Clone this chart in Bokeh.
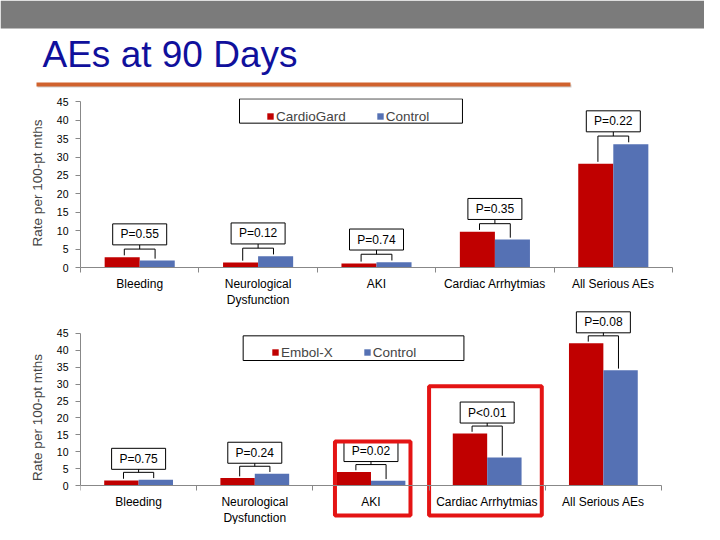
from bokeh.plotting import figure
from bokeh.models import FixedTicker, BoxAnnotation, Label, ColumnDataSource, Range1d
from bokeh.layouts import column
from bokeh.core.properties import value
from bokeh.embed import file_html
from bokeh.resources import INLINE

# ---------------- data ----------------
categories = ["Bleeding", "Neurological\nDysfunction", "AKI", "Cardiac Arrhytmias", "All Serious AEs"]
y_ticks = [0, 5, 10, 15, 20, 25, 30, 35, 40, 45]

cardiogard = [2.8, 1.35, 1.1, 9.7, 28.2]
control_top = [1.9, 3.05, 1.4, 7.6, 33.5]
p_top = ["P=0.55", "P=0.12", "P=0.74", "P=0.35", "P=0.22"]

embolx = [1.5, 2.2, 4.0, 15.4, 42.1]
control_bottom = [1.7, 3.5, 1.4, 8.3, 34.1]
p_bottom = ["P=0.75", "P=0.24", "P=0.02", "P<0.01", "P=0.08"]

RED = "#c00000"
BLUE = "#5571b4"
AXIS = "#888888"
FONT = "Liberation Sans"
W = 704


def make_chart(dev_name, dev_vals, ctrl_vals, p_labels, height, x_end, y_range,
               b_top, b_bottom, legend_xy, legend_box, fixed_axis=False):
    p = figure(width=W, height=height, x_range=Range1d(0, x_end), y_range=Range1d(*y_range),
               toolbar_location=None, output_backend="svg",
               min_border_left=80, min_border_right=32,
               min_border_top=b_top, min_border_bottom=b_bottom)
    p.outline_line_color = None
    p.xgrid.visible = False
    p.ygrid.visible = False

    n = len(categories)
    centers = [i + 0.5 for i in range(n)]
    src = ColumnDataSource(dict(
        xr=[c - 0.148 for c in centers],
        xb=[c + 0.148 for c in centers],
        dev=dev_vals, ctrl=ctrl_vals))
    p.vbar(x="xr", top="dev", width=0.296, source=src, fill_color=RED, line_color=None,
           legend_label=dev_name)
    p.vbar(x="xb", top="ctrl", width=0.296, source=src, fill_color=BLUE, line_color=None,
           legend_label="Control")

    # brackets and p-value boxes derived from the values
    x0s, y0s, x1s, y1s, lx, ly = [], [], [], [], [], []
    for c, r, b in zip(centers, dev_vals, ctrl_vals):
        by = max(r, b) + 2.2
        cy = by + 4.0
        x0s += [c - 0.13, c - 0.13, c + 0.13, c]
        y0s += [by, by, by, by]
        x1s += [c + 0.13, c - 0.13, c + 0.13, c]
        y1s += [by, r + 0.5, b + 0.5, cy - 2.8]
        lx.append(c)
        ly.append(cy)
    p.segment(x0=x0s, y0=y0s, x1=x1s, y1=y1s, line_color="black", line_width=1)
    p.rect(x=lx, y=ly, width=54, height=21, width_units="screen", height_units="screen",
           fill_color="white", line_color="black", line_width=1)
    p.text(x=lx, y=ly, text=p_labels, text_align="center", text_baseline="middle",
           text_font=value(FONT), text_font_size="12px", text_color="black")

    # legend
    lb = BoxAnnotation(left=legend_box[0], right=legend_box[1], bottom=legend_box[2],
                       top=legend_box[3], fill_color=None, line_color="black",
                       line_width=1, line_alpha=1)
    p.add_layout(lb)
    lg = p.legend[0]
    lg.location = legend_xy
    lg.orientation = "horizontal"
    lg.border_line_color = None
    lg.background_fill_alpha = 0
    lg.padding = 4
    lg.margin = 0
    lg.spacing = 30
    lg.glyph_width = 8
    lg.glyph_height = 8
    lg.label_standoff = 2
    lg.label_height = 20
    lg.label_text_font = FONT
    lg.label_text_font_size = "13.5px"

    # x axis: labels at centres, ticks at boundaries
    xa = p.xaxis[0]
    xa.ticker = FixedTicker(ticks=centers, minor_ticks=list(range(n + 1)))
    xa.major_label_overrides = {c: name for c, name in zip(centers, categories)}
    xa.bounds = (0, n)
    xa.major_tick_out = 0
    xa.major_tick_in = 0
    xa.minor_tick_out = 5
    xa.minor_tick_in = 0
    xa.minor_tick_line_color = AXIS
    xa.axis_line_color = AXIS
    xa.major_label_standoff = 4
    xa.major_label_text_font = FONT
    xa.major_label_text_font_size = "12px"
    xa.major_label_text_color = "black"
    if fixed_axis:
        xa.fixed_location = 0

    ya = p.yaxis[0]
    ya.ticker = FixedTicker(ticks=y_ticks)
    ya.bounds = (0, 45)
    ya.axis_line_color = AXIS
    ya.major_tick_line_color = AXIS
    ya.major_tick_out = 5
    ya.major_tick_in = 0
    ya.minor_tick_line_color = None
    ya.major_label_standoff = 7
    ya.major_label_text_font = FONT
    ya.major_label_text_font_size = "10.5px"
    ya.major_label_text_color = "black"
    ya.axis_label = "Rate per 100-pt mths"
    ya.axis_label_text_font = FONT
    ya.axis_label_text_font_style = "normal"
    ya.axis_label_text_font_size = "13.5px"
    ya.axis_label_standoff = 9
    return p


# ---------------- header ----------------
h = figure(width=W, height=90, x_range=Range1d(0, W), y_range=Range1d(0, 90),
           toolbar_location=None, output_backend="svg", min_border=0,
           min_border_left=0, min_border_right=0, min_border_top=0, min_border_bottom=0)
h.axis.visible = False
h.grid.visible = False
h.outline_line_color = None
h.quad(left=0, right=W, bottom=62, top=90, fill_color="#7b7b7b", line_color=None)
h.segment(x0=37, y0=4.5, x1=571, y1=4.5, line_color="#cfcfcf", line_width=3)
h.segment(x0=36, y0=6, x1=570, y1=6, line_color="#d0622d", line_width=4)
h.add_layout(Label(x=42, y=36, text="AEs at 90 Days", text_font=FONT,
                   text_font_size="37px", text_color="#10109c", text_baseline="alphabetic"))

# ---------------- charts ----------------
top = make_chart("CardioGard", cardiogard, control_top, p_top, 220, 5.0, (0, 45.9),
                 8, 37, (186, 141), (1.343, 3.226, 39.2, 45.8))
bottom = make_chart("Embol-X", embolx, control_bottom, p_bottom, 214, 5.095, (-11.54, 51.8),
                    0, 0, (191, 162), (1.40, 3.30, 37.0, 44.3), fixed_axis=True)

# highlight boxes around AKI and Cardiac Arrhytmias
bottom.quad(left=[2.19, 3.0], right=[2.84, 3.97], bottom=[-8.9, -8.9], top=[13.0, 29.4],
            fill_color=None, line_color="#e41414", line_width=4)

page = column(h, column(top, bottom, spacing=0), spacing=0)
open("out.html", "w").write(file_html(page, INLINE))
